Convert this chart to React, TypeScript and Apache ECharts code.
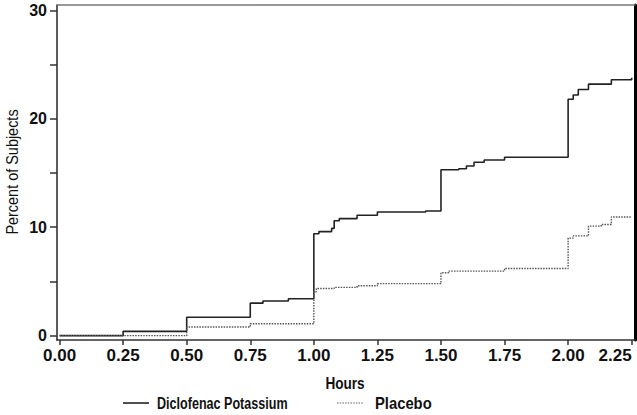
import React, { useEffect, useRef } from "react";
import * as echarts from "echarts";

const diclofenac: [number, number][] = [
  [0, 0], [0.25, 0.4], [0.5, 1.7], [0.75, 3.0], [0.8, 3.2], [0.9, 3.4],
  [1.0, 9.4], [1.02, 9.6], [1.07, 9.9], [1.08, 10.6], [1.1, 10.8], [1.17, 11.1],
  [1.25, 11.4], [1.44, 11.5], [1.5, 15.3], [1.57, 15.4], [1.6, 15.65], [1.63, 16.0],
  [1.67, 16.2], [1.75, 16.45], [2.0, 21.8], [2.02, 22.2], [2.04, 22.7], [2.08, 23.2],
  [2.17, 23.6], [2.25, 23.8],
];
const placebo: [number, number][] = [
  [0, 0], [0.5, 0.8], [0.75, 1.1], [1.0, 4.05], [1.01, 4.35], [1.08, 4.45],
  [1.17, 4.6], [1.25, 4.8], [1.5, 5.8], [1.53, 5.95], [1.75, 6.2], [2.0, 9.0],
  [2.02, 9.2], [2.08, 10.1], [2.13, 10.25], [2.17, 10.95], [2.25, 11.0],
];
const seriesNames = ["Diclofenac Potassium", "Placebo"];
const xTicks = [0, 0.25, 0.5, 0.75, 1.0, 1.25, 1.5, 1.75, 2.0, 2.25];
const yTicks = [0, 5, 10, 15, 20, 25, 30];
const yLabels = [0, 10, 20, 30];
const xTitle = "Hours";
const yTitle = "Percent of Subjects";

const FONT = "'Liberation Sans', Arial, sans-serif";
const INK = "#111";

export default function App() {
  const ref = useRef<HTMLDivElement>(null);
  useEffect(() => {
    const chart = echarts.init(ref.current!, null, { renderer: "svg" });
    const hidden = { axisTick: { show: false }, axisLabel: { show: false }, splitLine: { show: false } };
    chart.setOption({
      animation: false,
      backgroundColor: "#fff",
      grid: { left: 57, right: 2, top: 5, bottom: 75, containLabel: false, outerBoundsMode: "none" },
      xAxis: [
        {
          type: "value", min: -0.01, max: 2.263,
          axisLine: { show: true, onZero: false, lineStyle: { color: "#333", width: 1.6 } },
          axisTick: { show: true, customValues: xTicks, length: 5, lineStyle: { color: "#333", width: 1.5 } },
          axisLabel: {
            customValues: xTicks, margin: 7, alignMaxLabel: "right",
            fontFamily: FONT, fontSize: 17, fontWeight: "bold", color: INK,
            formatter: (v: number) => v.toFixed(2),
          },
          splitLine: { show: false },
        },
        {
          type: "value", position: "top", min: -0.01, max: 2.263,
          axisLine: { show: true, onZero: false, lineStyle: { color: "#777", width: 1.5 } },
          ...hidden,
        },
      ],
      yAxis: [
        {
          type: "value", min: -0.4, max: 30.5,
          axisLine: { show: true, onZero: false, lineStyle: { color: "#333", width: 1.6 } },
          axisTick: { show: true, customValues: yTicks, length: 7, lineStyle: { color: "#333", width: 1.5 } },
          axisLabel: {
            customValues: yLabels, margin: 10,
            fontFamily: FONT, fontSize: 16, fontWeight: "bold", color: INK,
          },
          splitLine: { show: false },
        },
        {
          type: "value", position: "right", min: -0.4, max: 30.5,
          axisLine: { show: true, onZero: false, lineStyle: { color: "#000", width: 3 } },
          ...hidden,
        },
      ],
      graphic: [
        {
          type: "text", x: 345, y: 383, scaleX: 0.8,
          style: { text: xTitle, fontFamily: FONT, fontSize: 17, fontWeight: "bold", fill: INK, align: "center", verticalAlign: "middle" },
        },
        {
          type: "text", x: 12, y: 172, rotation: Math.PI / 2, scaleX: 0.85,
          style: { text: yTitle, fontFamily: FONT, fontSize: 17, fill: INK, align: "center", verticalAlign: "middle" },
        },
        { type: "line", shape: { x1: 123, y1: 403, x2: 149, y2: 403 }, style: { stroke: "#222", lineWidth: 1.6 } },
        {
          type: "text", x: 157, y: 403, scaleX: 0.74,
          style: { text: seriesNames[0], fontFamily: FONT, fontSize: 17, fontWeight: "bold", fill: INK, align: "left", verticalAlign: "middle" },
        },
        { type: "line", shape: { x1: 337, y1: 403, x2: 364, y2: 403 }, style: { stroke: "#666", lineWidth: 1.2, lineDash: [1.5, 1.2] } },
        {
          type: "text", x: 375, y: 403, scaleX: 0.87,
          style: { text: seriesNames[1], fontFamily: FONT, fontSize: 17, fontWeight: "bold", fill: INK, align: "left", verticalAlign: "middle" },
        },
      ],
      series: [
        {
          name: seriesNames[0], type: "line", step: "end", data: diclofenac,
          symbol: "none", lineStyle: { color: "#222", width: 1.6 },
        },
        {
          name: seriesNames[1], type: "line", step: "end", data: placebo,
          symbol: "none", lineStyle: { color: "#555", width: 1.4, type: [1.5, 1.2] },
        },
      ],
    });
    return () => chart.dispose();
  }, []);
  return <div ref={ref} style={{ position: "fixed", left: 0, top: 0, width: 637, height: 415 }} />;
}
